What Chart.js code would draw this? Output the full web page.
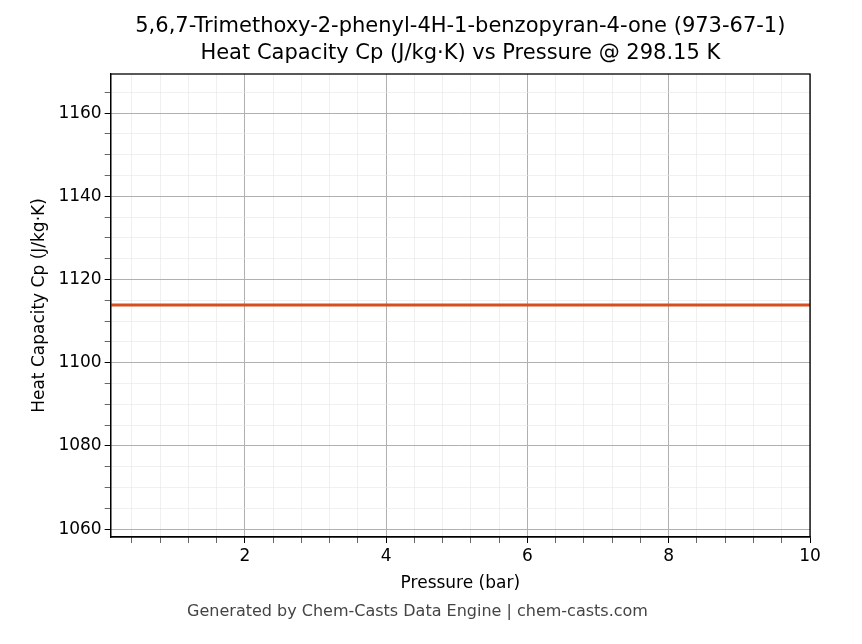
<!DOCTYPE html>
<html><head><meta charset="utf-8">
<script src="https://cdn.jsdelivr.net/npm/chart.js@4"></script>
<style>html,body{margin:0;padding:0;background:#fff}#w{width:862px;height:644px}</style>
</head><body><div id="w"><canvas id="c"></canvas></div>
<script>
const pressures = [0.1, 1, 2, 3, 4, 5, 6, 7, 8, 9, 10];
const cpValues = [1113.9, 1113.9, 1113.9, 1113.9, 1113.9, 1113.9, 1113.9, 1113.9, 1113.9, 1113.9, 1113.9];
const xMajor = [2, 4, 6, 8, 10];
const yMajor = [1060, 1080, 1100, 1120, 1140, 1160];
const titleLines = ['5,6,7-Trimethoxy-2-phenyl-4H-1-benzopyran-4-one (973-67-1)','Heat Capacity Cp (J/kg·K) vs Pressure @ 298.15 K'];
const font = 'DejaVu Sans';
function near(v, arr){return arr.some(a=>Math.abs(a-v)<1e-6);}
new Chart(document.getElementById('c'), {
  type: 'line',
  data: { datasets: [{ data: pressures.map((p,i)=>({x:p,y:cpValues[i]})), borderColor:'#d6501f', borderWidth:3, pointRadius:0, tension:0 }] },
  options: {
    responsive:true, maintainAspectRatio:false, animation:false,
    layout:{padding:{left:25,right:52,top:74,bottom:21}},
    plugins:{
      legend:{display:false}, tooltip:{enabled:false},
      title:{display:false},
      subtitle:{display:true, position:'bottom', text:'Generated by Chem-Casts Data Engine | chem-casts.com', color:'#444', font:{family:font,size:16}, padding:{top:4,bottom:2}}
    },
    scales:{
      x:{type:'linear', min:0.1, max:10,
        afterBuildTicks:(s)=>{const t=[];for(let i=1;i<=25;i++)t.push({value:+(i*0.4).toFixed(2)});s.ticks=t;},
        ticks:{autoSkip:false, maxRotation:0, color:'#000', font:{family:font,size:17}, callback:(v)=>near(v,xMajor)?String(v):''},
        grid:{color:(c)=>near(c.tick.value,xMajor)?'#b0b0b0':'#e6e6e6', lineWidth:(c)=>near(c.tick.value,xMajor)?1:0.6, tickColor:'#000', tickLength:6, drawTicks:true},
        border:{color:'#000',width:1.3},
        title:{display:true,text:'Pressure (bar)',color:'#000',font:{family:font,size:17},padding:{top:4}}},
      y:{type:'linear', min:1058.1, max:1169.4,
        afterBuildTicks:(s)=>{const t=[];for(let v=1060;v<=1165;v+=5)t.push({value:v});s.ticks=t;},
        ticks:{autoSkip:false, color:'#000', font:{family:font,size:17}, callback:(v)=>near(v,yMajor)?String(v):''},
        grid:{color:(c)=>near(c.tick.value,yMajor)?'#b0b0b0':'#e6e6e6', lineWidth:(c)=>near(c.tick.value,yMajor)?1:0.6, tickColor:'#000', tickLength:6},
        border:{color:'#000',width:1.3},
        title:{display:true,text:'Heat Capacity Cp (J/kg·K)',color:'#000',font:{family:font,size:17},padding:{bottom:6}}}
    }
  },
  plugins:[{id:'frame',afterDraw(ch){const a=ch.chartArea,g=ch.ctx;g.save();g.strokeStyle='#000';g.lineWidth=1.3;g.strokeRect(a.left,a.top,a.right-a.left,a.bottom-a.top);
    g.fillStyle='#000';g.font='21px "DejaVu Sans"';g.textAlign='center';g.textBaseline='middle';const cx=(a.left+a.right)/2;
    g.fillText(titleLines[0],cx,27);g.fillText(titleLines[1],cx,54);g.restore();}}]
});
</script></body></html>
